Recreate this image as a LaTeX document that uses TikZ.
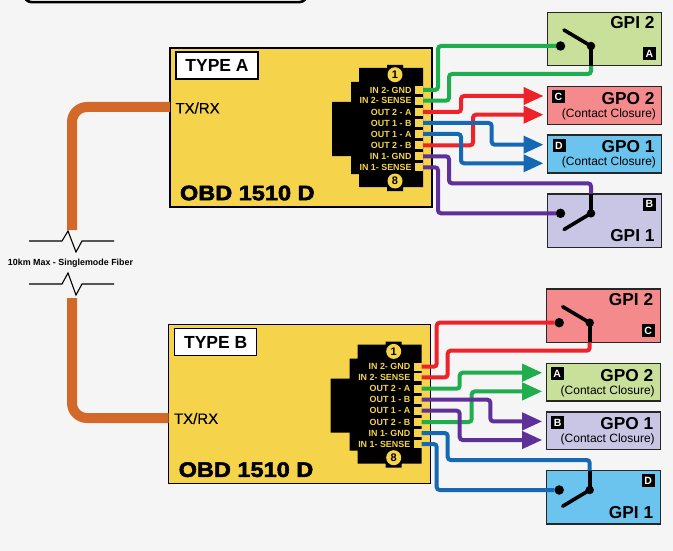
\documentclass[tikz,border=0pt]{standalone}
\usepackage{fontspec}
\setmainfont{Liberation Sans}
\newfontfamily\heavyfont[FakeStretch=1.12,FakeBold=2.5]{Liberation Sans}
\newfontfamily\portfont[FakeBold=0.4]{Liberation Sans}
\usetikzlibrary{arrows.meta}
\definecolor{pagebg}{HTML}{F5F5F5}
\definecolor{devyellow}{HTML}{F5D44B}
\definecolor{fibre}{HTML}{D2692A}
\definecolor{wgreen}{HTML}{1FAD4E}
\definecolor{wred}{HTML}{EE2229}
\definecolor{wblue}{HTML}{1568B4}
\definecolor{wpurple}{HTML}{60309A}
\definecolor{bgreen}{HTML}{C8E09A}
\definecolor{bred}{HTML}{F48A8C}
\definecolor{bblue}{HTML}{6BC4EE}
\definecolor{bpurple}{HTML}{C8C6E4}
\tikzset{
  every node/.style={inner sep=0pt,outer sep=0pt},
  device/.style={draw=black,line width=1.2pt,fill=devyellow,minimum width=262pt,minimum height=159pt},
  typebox/.style={draw=black,line width=1.2pt,fill=white,minimum width=82pt,minimum height=27pt,font=\bfseries\fontsize{17.5}{18}\selectfont},
  model/.style={anchor=west,font=\heavyfont\bfseries\fontsize{21}{22}\selectfont},
  port/.style={anchor=west,font=\portfont\fontsize{15}{16}\selectfont},
  pad/.style={fill=devyellow,minimum width=8pt,minimum height=8pt},
  pinlabel/.style={anchor=east,text=devyellow,font=\bfseries\fontsize{8.9}{9}\selectfont},
  pincircle/.style={circle,fill=devyellow,minimum size=15pt,font=\bfseries\fontsize{11}{11}\selectfont},
  gbox/.style={draw=black!85,line width=1.3pt,minimum width=114pt},
  gpi/.style={gbox,minimum height=53.4pt},
  gpo/.style={gbox,minimum height=37.7pt},
  gtitle/.style={anchor=east,font=\bfseries\fontsize{17.3}{18}\selectfont},
  gsub/.style={anchor=east,font=\fontsize{12}{13}\selectfont},
  tag/.style={fill=black,text=white,minimum size=13pt,font=\bfseries\fontsize{10.5}{10}\selectfont},
  wire/.style={line width=4pt,rounded corners=3pt},
  arrowwire/.style={wire,-{Triangle[length=20pt,width=17pt]}},
  fibrecable/.style={draw=fibre,line width=10pt,rounded corners=15pt},
  dot/.style={circle,fill=black,minimum size=9.5pt},
  pivot/.style={circle,fill=black,minimum size=8.5pt},
  blade/.style={line width=3.6pt,line cap=round},
  stem/.style={line width=3.8pt},
  breakline/.style={line width=1.1pt},
}
% prefix, gpi2 fill, gpi2 tag, gpo2 fill, gpo2 tag, gpo1 fill, gpo1 tag
\newcommand{\panelparts}[7]{%
  \node[device] (#1-dev) at (301,127.5) {};
  \node[typebox] (#1-type) at (217,65.5) {TYPE #1};
  \node[model] (#1-model) at (180,193) {OBD 1510 D};
  \fill[black] (332,102) -- (351,102) -- (351,82) -- (359,82) -- (359,68) -- (387,68) -- (387,65) -- (403,65) -- (403,68) -- (423,68) -- (423,187) -- (403,187) -- (403,191) -- (387,191) -- (387,187) -- (359,187) -- (359,174) -- (351,174) -- (351,156) -- (332,156) -- cycle;
  \node[pincircle] (#1-c1) at (395,74.7) {1};
  \node[pincircle] (#1-c8) at (395,181) {8};
  \foreach \n/\y/\t in {1/90/IN 2- GND,2/100.7/IN 2- SENSE,3/112/OUT 2 - A,4/123/OUT 1 - B,5/134/OUT 1 - A,6/145.3/OUT 2 - B,7/156.3/IN 1- GND,8/167.3/IN 1- SENSE}{
    \node[pad] (#1-p\n) at (419,\y) {};
    \node[pinlabel] (#1-t\n) at (411.5,\y) {\t};
  }
  \node[gpi,fill=#2] (#1-gpi2) at (604.7,39) {};
  \node[gtitle] (#1-gpi2t) at (654.5,23) {GPI 2};
  \node[tag] (#1-gpi2tag) at (649.5,54) {#3};
  \node[gpo,fill=#4] (#1-gpo2) at (604.7,105.5) {};
  \node[tag] (#1-gpo2tag) at (558.5,97) {#5};
  \node[gtitle] (#1-gpo2t) at (654.5,99) {GPO 2};
  \node[gsub] (#1-gpo2s) at (656,114.3) {(Contact Closure)};
  \node[gpo,fill=#6] (#1-gpo1) at (604.7,154) {};
  \node[tag] (#1-gpo1tag) at (559,146) {#7};
  \node[gtitle] (#1-gpo1t) at (654.5,147) {GPO 1};
  \node[gsub] (#1-gpo1s) at (656,162.7) {(Contact Closure)};
}
% gpi1 fill, gpi1 tag, prefix
\newcommand{\panelswitches}[3]{%
  \node[gpi,fill=#1] (#3-gpi1) at (604.7,220.7) {};
  \node[gtitle] (#3-gpi1t) at (654.5,235.7) {GPI 1};
  \node[tag] (#3-gpi1tag) at (649.5,204) {#2};
  \coordinate (#3-topdrop) at (591,65.7);
  \coordinate (#3-botdrop) at (591,194);
  \coordinate (#3-topl1) at (438,46);
  \coordinate (#3-topl2) at (449,74);
  \coordinate (#3-topr2) at (591,74);
  \coordinate (#3-botl1) at (449,183.3);
  \coordinate (#3-botr1) at (591,183.3);
  \coordinate (#3-botl2) at (438,213.3);
  \coordinate (#3-la) at (461,96);
  \coordinate (#3-lb) at (473,114.7);
  \coordinate (#3-lc) at (491.7,144.7);
  \coordinate (#3-ld) at (461,163.3);
  \coordinate (#3-ta) at (543.5,96);
  \coordinate (#3-tb) at (543.5,114.7);
  \coordinate (#3-tc) at (543.5,144.7);
  \coordinate (#3-td) at (543.5,163.3);
  \node[dot] (#3-in2) at (560.5,46) {};
  \node[pivot] (#3-piv2) at (591,46) {};
  \coordinate (#3-blade2) at (564,30);
  \node[dot] (#3-in1) at (560.5,213.3) {};
  \node[pivot] (#3-piv1) at (591,213.3) {};
  \coordinate (#3-blade1) at (564,229.5);
}
\newcommand{\panelblades}[1]{%
  \draw[stem] (#1-topdrop) -- (#1-piv2.center);
  \draw[blade] (#1-piv2.center) -- (#1-blade2);
  \draw[stem] (#1-botdrop) -- (#1-piv1.center);
  \draw[blade] (#1-piv1.center) -- (#1-blade1);
}
\begin{document}
\begin{tikzpicture}[x=1pt,y=-1pt]
\useasboundingbox (0,0) rectangle (673,551);
\fill[pagebg] (0,0) rectangle (673,551);
\begin{scope}
\clip (0,0) rectangle (673,551);
\draw[line width=2.6pt,rounded corners=8pt,fill=white] (24,-20) rectangle (307,2.2);
\end{scope}

\coordinate (breakA) at (72,230);
\coordinate (breakB) at (72,298);
\coordinate (cornerA) at (72,107);
\coordinate (cornerB) at (72,418);

% TYPE A
\panelparts{A}{bgreen}{A}{bred}{C}{bblue}{D}
\panelswitches{bpurple}{B}{A}
\draw[wire,wgreen] (A-p1.east) -| (A-topl1) -- (A-in2.west);
\draw[wire,wgreen] (A-p2.east) -| (A-topl2) -- (A-topr2) -- (A-topdrop);
\draw[arrowwire,wred] (A-p3.east) -| (A-la) -- (A-ta);
\draw[arrowwire,wred] (A-p6.east) -| (A-lb) -- (A-tb);
\draw[arrowwire,wblue] (A-p4.east) -| (A-lc) -- (A-tc);
\draw[arrowwire,wblue] (A-p5.east) -| (A-ld) -- (A-td);
\draw[wire,wpurple] (A-p7.east) -| (A-botl1) -- (A-botr1) -- (A-botdrop);
\draw[wire,wpurple] (A-p8.east) -| (A-botl2) -- (A-in1.west);
\panelblades{A}

% TYPE B
\begin{scope}[shift={(-1.3,276.7)}]
\panelparts{B}{bred}{C}{bgreen}{A}{bpurple}{B}
\panelswitches{bblue}{D}{B}
\draw[wire,wred] (B-p1.east) -| (B-topl1) -- (B-in2.west);
\draw[wire,wred] (B-p2.east) -| (B-topl2) -- (B-topr2) -- (B-topdrop);
\draw[arrowwire,wgreen] (B-p3.east) -| (B-la) -- (B-ta);
\draw[arrowwire,wgreen] (B-p6.east) -| (B-lb) -- (B-tb);
\draw[arrowwire,wpurple] (B-p4.east) -| (B-lc) -- (B-tc);
\draw[arrowwire,wpurple] (B-p5.east) -| (B-ld) -- (B-td);
\draw[wire,wblue] (B-p7.east) -| (B-botl1) -- (B-botr1) -- (B-botdrop);
\draw[wire,wblue] (B-p8.east) -| (B-botl2) -- (B-in1.west);
\panelblades{B}
\end{scope}

\node[port] (A-tx) at (175.5,108) {TX/RX};
\node[port] (B-tx) at (174,418.5) {TX/RX};

\draw[fibrecable] (A-dev.west |- cornerA) -- (cornerA) -- (breakA);
\draw[fibrecable] (B-dev.west |- cornerB) -- (cornerB) -- (breakB);

\draw[breakline] (29,241) -- (62,241) -- (68,231) -- (76,252) -- (82,241) -- (114,241);
\draw[breakline] (29,284) -- (62,284) -- (68,273) -- (76,295) -- (82,284) -- (114,284);
\node[font=\bfseries\fontsize{8.9}{9}\selectfont] (fibrelabel) at (70.5,263) {10km Max - Singlemode Fiber};
\end{tikzpicture}
\end{document}
